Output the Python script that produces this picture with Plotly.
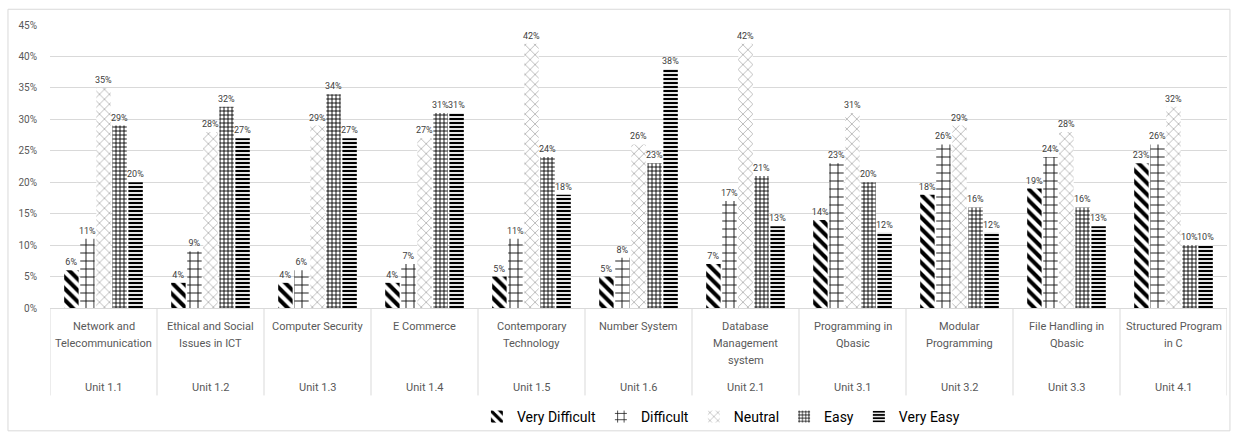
import plotly.graph_objects as go

# Survey results per course unit (percent of respondents)
units = ["Unit 1.1", "Unit 1.2", "Unit 1.3", "Unit 1.4", "Unit 1.5", "Unit 1.6",
         "Unit 2.1", "Unit 3.1", "Unit 3.2", "Unit 3.3", "Unit 4.1"]
topics = ["Network and<br>Telecommunication", "Ethical and Social<br>Issues in ICT",
          "Computer Security", "E Commerce", "Contemporary<br>Technology",
          "Number System", "Database<br>Management<br>system", "Programming in<br>Qbasic",
          "Modular<br>Programming", "File Handling in<br>Qbasic", "Structured Program<br>in C"]

very_difficult = [6, 4, 4, 4, 5, 5, 7, 14, 18, 19, 23]
difficult = [11, 9, 6, 7, 11, 8, 17, 23, 26, 24, 26]
neutral = [35, 28, 29, 27, 42, 26, 42, 31, 29, 28, 32]
easy = [29, 32, 34, 31, 24, 23, 21, 20, 16, 16, 10]
very_easy = [20, 27, 27, 31, 18, 38, 13, 12, 12, 13, 10]

y_ticks = [0, 5, 10, 15, 20, 25, 30, 35, 40, 45]

FONT = "Roboto, Arial, sans-serif"
TXT = "#595959"
GRID = "#d9d9d9"

series = [
    ("Very Difficult", very_difficult, dict(shape="\\", fgcolor="#000000", size=8, solidity=0.5)),
    ("Difficult", difficult, dict(shape="+", fgcolor="#111111", size=8, solidity=0.22)),
    ("Neutral", neutral, dict(shape="x", fgcolor="#a6a6a6", size=7, solidity=0.2)),
    ("Easy", easy, dict(shape="+", fgcolor="#000000", size=4, solidity=0.4)),
    ("Very Easy", very_easy, dict(shape="-", fgcolor="#000000", size=4, solidity=0.55)),
]

fig = go.Figure()
for name, vals, pat in series:
    pat = dict(pat, bgcolor="#ffffff", fgopacity=1)
    fig.add_trace(go.Bar(
        name=name, x=units, y=vals,
        marker=dict(color="#ffffff", pattern=pat, line=dict(width=0)),
        text=[f"{v}%" for v in vals], textposition="outside",
        textfont=dict(family=FONT, size=9, color="#404040"),
        constraintext="none", cliponaxis=False,
    ))

# Category boxes beneath the axis: topic names (one annotation per line),
# unit codes and dividers
line_y = [-0.066, -0.125, -0.184]
ann = []
shapes = []
for u, t in zip(units, topics):
    for k, part in enumerate(t.split("<br>")):
        ann.append(dict(x=u, xref="x", y=line_y[k], yref="paper", text=part, showarrow=False,
                        yanchor="middle", font=dict(family=FONT, size=11, color=TXT)))
    ann.append(dict(x=u, xref="x", y=-0.281, yref="paper", text=u, showarrow=False,
                    yanchor="middle", font=dict(family=FONT, size=11, color=TXT)))
for i in range(len(units) + 1):
    shapes.append(dict(type="line", xref="x", yref="paper", x0=i - 0.5, x1=i - 0.5,
                       y0=0, y1=-0.309, line=dict(color=GRID, width=1)))
# Chart border
shapes.append(dict(type="rect", xref="paper", yref="paper", x0=-0.0357, x1=1.0025,
                   y0=-0.434, y1=1.0556, line=dict(color=GRID, width=1), layer="below"))

fig.update_layout(
    width=1233, height=439,
    margin=dict(l=50, r=6, t=25, b=126),
    paper_bgcolor="#ffffff", plot_bgcolor="#ffffff",
    barmode="group", bargap=0.25, bargroupgap=0.1,
    font=dict(family=FONT, color=TXT),
    xaxis=dict(type="category", range=[-0.5, len(units) - 0.5], showticklabels=False,
               showgrid=False, showline=True, linecolor=GRID, zeroline=False, ticks=""),
    yaxis=dict(range=[0, 45], tickvals=y_ticks, ticktext=[f"{v}%" for v in y_ticks],
               showgrid=True, gridcolor=GRID, gridwidth=1, zeroline=False, showline=False,
               tickfont=dict(family=FONT, size=10, color=TXT), ticklabelstandoff=12),
    legend=dict(orientation="h", x=0.57, xanchor="center", y=-0.385, yanchor="middle",
                font=dict(family=FONT, size=14, color="#000000"), itemwidth=30,
                bgcolor="rgba(0,0,0,0)"),
    annotations=ann, shapes=shapes,
)

fig.write_html("out.html")
